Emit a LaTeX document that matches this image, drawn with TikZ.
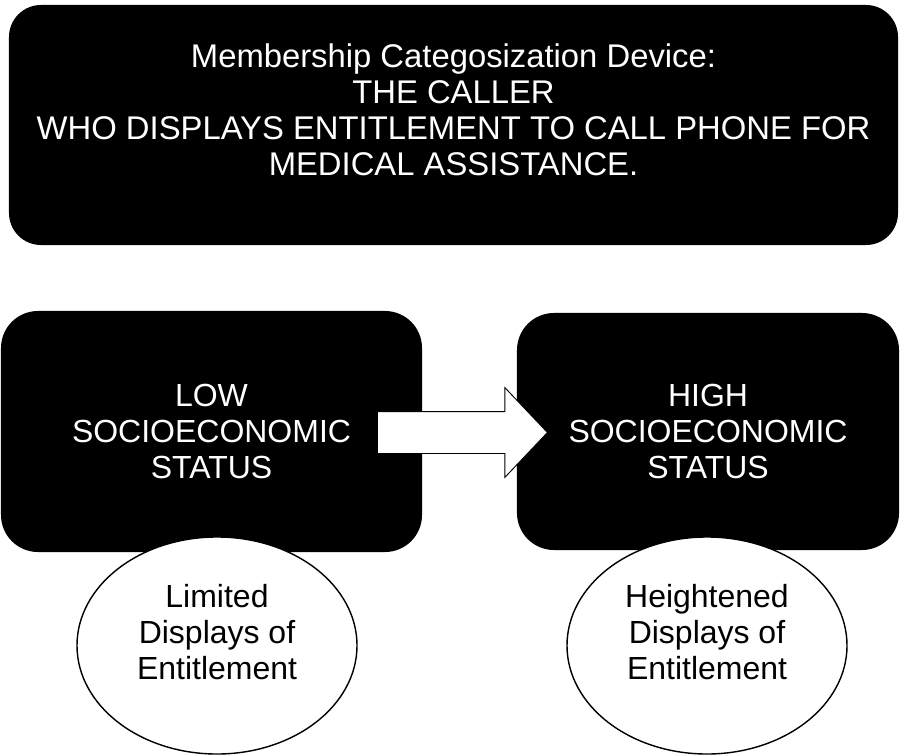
\documentclass[tikz,border=0pt]{standalone}
\usepackage{fontspec}
\setmainfont{Liberation Sans}
\usepackage{tikz}
\usetikzlibrary{shapes.geometric,shapes.arrows}
\tikzset{
    device/.style={
           rectangle,
           rounded corners=0.96cm,
           fill=black,
           text=white,
           align=center,
           inner sep=0pt,
           font=\fontsize{28}{30.7}\selectfont,
           },
}
\tikzset{
    status/.style={
           rectangle,
           rounded corners=1.11cm,
           fill=black,
           text=white,
           align=center,
           inner sep=0pt,
           font=\fontsize{27.3}{30.7}\selectfont,
           },
}
\tikzset{
    display/.style={
           ellipse,
           draw=black, line width=1.2pt,
           fill=white,
           align=center,
           inner sep=0pt,
           minimum width=8.4cm,
           minimum height=6.51cm,
           font=\fontsize{27.3}{30.7}\selectfont,
           },
}
\tikzset{
    moveup/.style={
           single arrow,
           draw=black, line width=0.8pt,
           fill=white,
           inner xsep=0pt, inner ysep=0.615cm,
           minimum height=5.1cm,
           single arrow head extend=0.72cm,
           single arrow tip angle=93,
           },
}

\begin{document}
\begin{tikzpicture}[x=0.03cm, y=-0.03cm]
\useasboundingbox (0,0) rectangle (900,755);
\node[device, minimum width=26.67cm, minimum height=7.2cm] (mcd) at (453.5,125)
    {Membership Categosization Device:\\THE CALLER\\WHO DISPLAYS ENTITLEMENT TO CALL PHONE FOR\\MEDICAL ASSISTANCE.\\[-4pt]\mbox{}};
\node[status, minimum width=12.63cm, minimum height=7.23cm] (low) at (211.5,431.5)
    {LOW\\SOCIOECONOMIC\\STATUS};
\node[status, minimum width=11.46cm, minimum height=7.11cm] (high) at (708,431.5)
    {HIGH\\SOCIOECONOMIC\\STATUS};
\node[moveup, anchor=tail] (move) at (377,432.5) {};
\node[display] (limited) at (217,645.5) {Limited\\Displays of\\Entitlement\\[-8pt]\mbox{}};
\node[display] (heightened) at (707,645.5) {Heightened\\Displays of\\Entitlement\\[-8pt]\mbox{}};
\end{tikzpicture}
\end{document}
